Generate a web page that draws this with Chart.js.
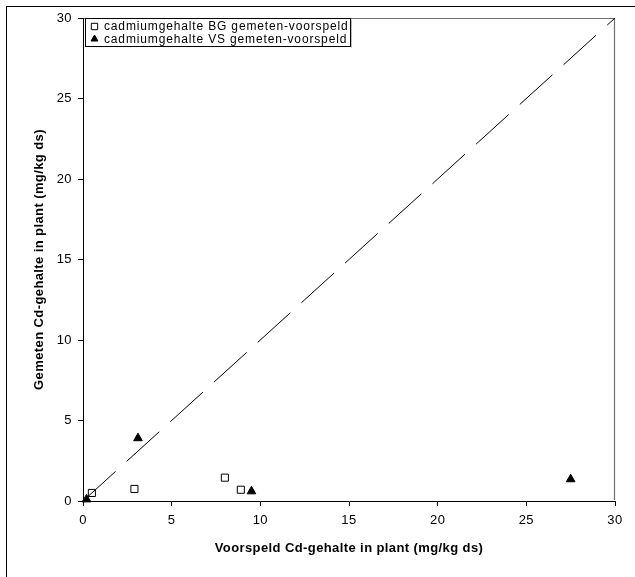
<!DOCTYPE html>
<html>
<head>
<meta charset="utf-8">
<title>Cd-gehalte gemeten vs voorspeld</title>
<script src="https://cdn.jsdelivr.net/npm/chart.js@4/dist/chart.umd.min.js"></script>
<style>
    body { margin: 0; background: #fff; }
    #wrap { width: 635px; height: 577px; }
</style>
</head>
<body>
<div id="wrap"><canvas id="cdChart" width="635" height="577"></canvas></div>
<script>
// Data
const bgLabel = 'cadmiumgehalte BG gemeten-voorspeld';
const bgVoorspeld = [0.5, 2.9, 8.0, 8.9];
const bgGemeten = [0.5, 0.75, 1.45, 0.7];

const vsLabel = 'cadmiumgehalte VS gemeten-voorspeld';
const vsVoorspeld = [0.2, 3.1, 9.5, 27.5];
const vsGemeten = [0.1, 3.9, 0.6, 1.35];

// 1:1 line
const lijnX = [0, 30];
const lijnY = [0, 30];

const axisTicks = [0, 5, 10, 15, 20, 25, 30];

const FONT = '"Liberation Sans", Arial, sans-serif';

function toPoints(xs, ys) {
    return xs.map((x, i) => ({ x: x, y: ys[i] }));
}

/**
 * Background, outer frame, plot border and the boxed legend
 */
const framePlugin = {
    id: 'frame',
    beforeDraw(chart) {
        const ctx = chart.ctx;
        ctx.save();
        ctx.fillStyle = '#fff';
        ctx.fillRect(0, 0, chart.width, chart.height);
        ctx.strokeStyle = '#000';
        ctx.lineWidth = 1;
        ctx.strokeRect(6.5, 6.5, 800, 800);
        ctx.restore();
        // the Excel original spaces its text a little wider
        ctx.letterSpacing = '0.4px';
    },
    beforeDatasetsDraw(chart) {
        const ctx = chart.ctx;
        const a = chart.chartArea;
        // grey border on top and right of the plot area
        ctx.save();
        ctx.strokeStyle = '#6e6e6e';
        ctx.lineWidth = 1.2;
        ctx.beginPath();
        ctx.moveTo(a.left + 1, a.top + 0.5);
        ctx.lineTo(a.right - 0.5, a.top + 0.5);
        ctx.lineTo(a.right - 0.5, a.bottom - 1);
        ctx.stroke();
        ctx.restore();
    },
    afterDraw(chart) {
        const ctx = chart.ctx;
        const items = chart.data.datasets.filter(ds => ds.inLegend);
        const x0 = 85.5, y0 = 18.5, w = 265, rowH = 12.5;
        const h = items.length * rowH + 3;
        ctx.save();
        ctx.fillStyle = '#fff';
        ctx.fillRect(x0, y0, w, h);
        ctx.strokeStyle = '#000';
        ctx.lineWidth = 1;
        ctx.strokeRect(x0, y0, w, h);
        ctx.strokeStyle = '#bbb';
        ctx.beginPath();
        ctx.moveTo(x0 + w + 1, y0 + 1);
        ctx.lineTo(x0 + w + 1, y0 + h + 1);
        ctx.stroke();

        items.forEach((ds, i) => {
            const cy = y0 + 8 + i * rowH;
            ctx.fillStyle = ds.pointBackgroundColor;
            ctx.strokeStyle = ds.pointBorderColor;
            ctx.lineWidth = 1;
            Chart.helpers.drawPoint(ctx, {
                pointStyle: ds.pointStyle,
                radius: ds.legendRadius,
                borderWidth: 1,
                rotation: 0
            }, 94.5, cy);
            ctx.fillStyle = '#000';
            ctx.font = '12px ' + FONT;
            ctx.letterSpacing = '0.85px';
            ctx.textBaseline = 'middle';
            ctx.textAlign = 'left';
            ctx.fillText(ds.label, 104, cy + 0.5);
        });
        ctx.restore();
    }
};

const commonTicks = {
    color: '#000',
    font: { family: FONT, size: 13 },
    stepSize: 5,
    autoSkip: false
};

new Chart(document.getElementById('cdChart'), {
    type: 'scatter',
    data: {
        datasets: [
            {
                label: '1:1',
                data: toPoints(lijnX, lijnY),
                showLine: true,
                borderColor: '#000',
                borderWidth: 1,
                borderDash: [44, 15],
                pointRadius: 0,
                inLegend: false
            },
            {
                label: bgLabel,
                data: toPoints(bgVoorspeld, bgGemeten),
                pointStyle: 'rect',
                pointRadius: 5,
                pointBackgroundColor: '#fff',
                pointBorderColor: '#000',
                pointBorderWidth: 1,
                legendRadius: 4.5,
                clip: false,
                inLegend: true
            },
            {
                label: vsLabel,
                data: toPoints(vsVoorspeld, vsGemeten),
                pointStyle: 'triangle',
                pointRadius: 5,
                pointBackgroundColor: '#000',
                pointBorderColor: '#000',
                pointBorderWidth: 1,
                legendRadius: 4,
                clip: false,
                inLegend: true
            }
        ]
    },
    options: {
        responsive: false,
        animation: false,
        layout: { padding: { top: 18, right: 20, left: 0, bottom: 0 } },
        plugins: {
            legend: { display: false },
            tooltip: { enabled: false }
        },
        scales: {
            x: {
                type: 'linear',
                position: 'bottom',
                min: axisTicks[0],
                max: axisTicks[axisTicks.length - 1],
                afterFit(scale) { scale.height = 76; },
                afterBuildTicks(scale) { scale.ticks = axisTicks.map(v => ({ value: v })); },
                ticks: { ...commonTicks, padding: 7, maxRotation: 0 },
                grid: { drawOnChartArea: false, drawTicks: true, tickLength: 5, color: '#000' },
                border: { display: true, color: '#000', width: 1 },
                title: {
                    display: true,
                    text: 'Voorspeld Cd-gehalte in plant (mg/kg ds)',
                    color: '#000',
                    font: { family: FONT, size: 13, weight: 'bold' },
                    padding: { top: 0, bottom: 21 }
                }
            },
            y: {
                type: 'linear',
                position: 'left',
                min: axisTicks[0],
                max: axisTicks[axisTicks.length - 1],
                afterFit(scale) { scale.width = 83; },
                afterBuildTicks(scale) { scale.ticks = axisTicks.map(v => ({ value: v })); },
                ticks: { ...commonTicks, padding: 6 },
                grid: { drawOnChartArea: false, drawTicks: true, tickLength: 5, color: '#000' },
                border: { display: true, color: '#000', width: 1 },
                title: {
                    display: true,
                    text: 'Gemeten Cd-gehalte in plant (mg/kg ds)',
                    color: '#000',
                    font: { family: FONT, size: 13, weight: 'bold' },
                    padding: { top: 32, bottom: 0 }
                }
            }
        }
    },
    plugins: [framePlugin]
});
</script>
</body>
</html>
